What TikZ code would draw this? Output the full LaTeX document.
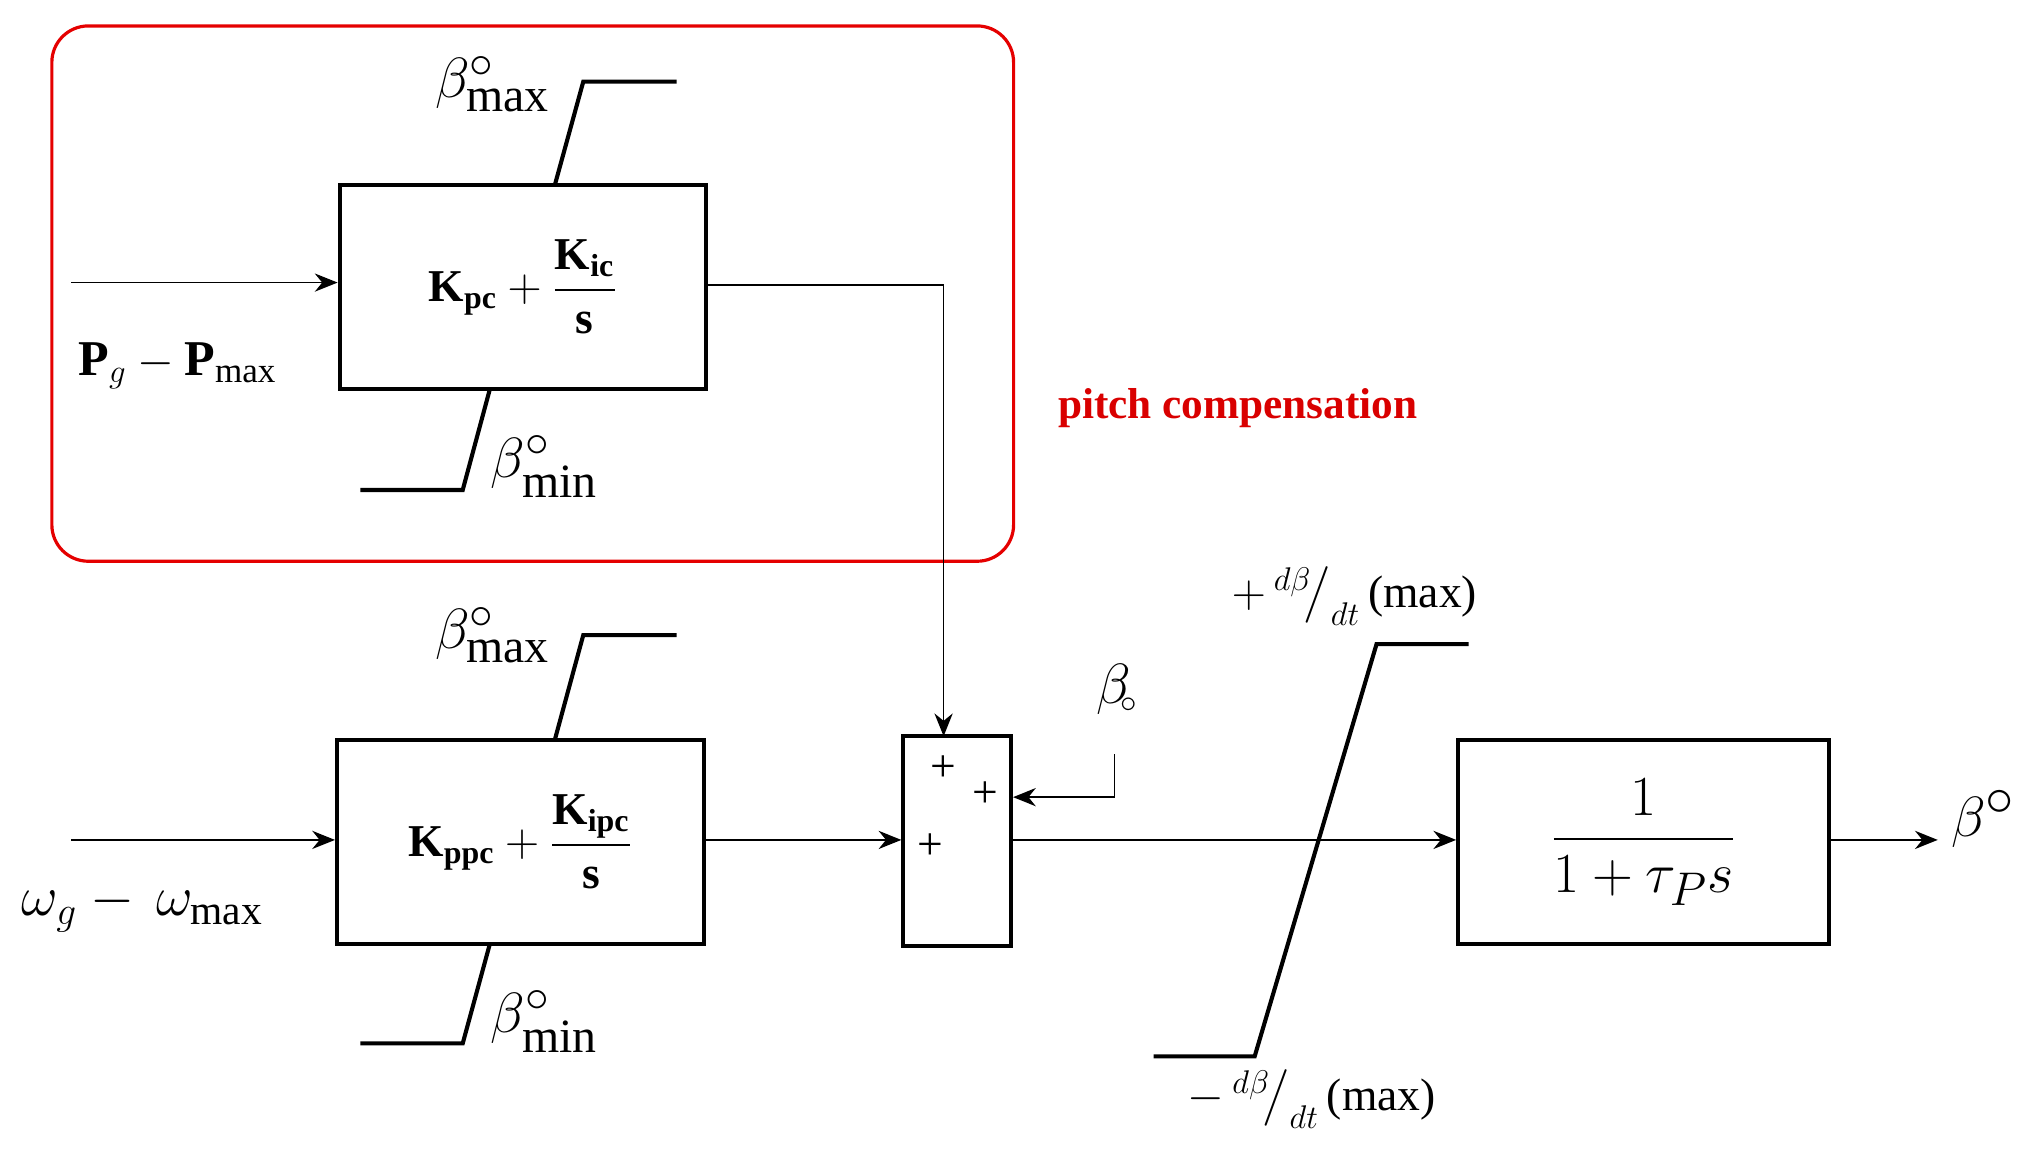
\documentclass[tikz,border=0pt]{standalone}
\usepackage{fontspec}
\setmainfont{Liberation Serif}
\usepackage{amsmath}
\usetikzlibrary{arrows.meta}
\begin{document}
\begin{tikzpicture}[x=0.02cm,y=-0.02cm,
 blk/.style={draw,line width=1.8pt,inner sep=0pt},
 lim/.style={line width=1.8pt},
 sig/.style={line width=0.7pt,-{Stealth[length=10pt,width=8pt]}},
 lab/.style={font=\fontsize{20}{24}\selectfont},
 big/.style={font=\fontsize{30}{34}\selectfont}]
\useasboundingbox (0,0) rectangle (1560,890);
\draw[red!90!black,line width=1.4pt,rounded corners=16pt] (40,20) rectangle (782,433);
\node[lab,text=red!85!black,font=\fontsize{19}{22}\selectfont\bfseries] (pc) at (955,315) {pitch compensation};
% upper block
\node[blk,minimum width=5.66cm,minimum height=3.14cm,lab] (ub) at (403.5,221.5) {$\mathbf{K_{pc}}+\dfrac{\mathbf{K_{ic}}}{\mathbf{s}}$};
\draw[lim] (428,143) -- (450,63) -- (522,63);
\draw[lim] (378,300) -- (357,378) -- (278,378);
\node[big] (ubmax) at (380,65) {$\beta^{\circ}_{\mathrm{max}}$};
\node[big] (ubmin) at (420,360) {$\beta^{\circ}_{\mathrm{min}}$};
\coordinate (uin) at (55,218);
\draw[sig] (uin) -- (ub.west|-uin);
\node[lab,font=\fontsize{22}{26}\selectfont] (pl) at (137,282) {$\mathbf{P}_{g}-\mathbf{P}_{\mathrm{max}}$};
% lower block
\node[blk,minimum width=5.66cm,minimum height=3.14cm,lab] (lb) at (401.5,649.5) {$\mathbf{K_{ppc}}+\dfrac{\mathbf{K_{ipc}}}{\mathbf{s}}$};
\draw[lim] (428,571) -- (450,490) -- (522,490);
\draw[lim] (378,728) -- (357,805) -- (278,805);
\node[big] (lbmax) at (380,490) {$\beta^{\circ}_{\mathrm{max}}$};
\node[big] (lbmin) at (420,788) {$\beta^{\circ}_{\mathrm{min}}$};
\coordinate (lin) at (55,648);
\draw[sig] (lin) -- (lb.west|-lin);
\node[big,font=\fontsize{26}{30}\selectfont] (wl) at (110,700) {$\omega_{g}-\,\omega_{\mathrm{max}}$};
% sum
\node[blk,minimum width=1.66cm,minimum height=3.24cm] (sum) at (738.5,649) {};
\node[lab] (p1) at (728,593) {+};
\node[lab] (p2) at (760,613) {+};
\node[lab] (p3) at (718,653) {+};
\draw[sig] (ub.east|-0,220) -| (728,568);
\draw[sig] (lb.east|-0,648) -- (sum.west|-0,648);
\node[big,inner sep=1pt] (b0) at (862,532) {$\beta_{\!\scriptscriptstyle\circ}$};
\draw[sig] (860,582) |- (sum.east|-0,615);
% rate limiter
\draw[lim] (890,815) -- (968,815) -- (1062,497) -- (1133,497);
\node[lab] (rp) at (1045,460) {$+\,{}^{d\beta}\!\big/_{dt}\,$(max)};
\node[lab] (rm) at (1012,848) {$-\,{}^{d\beta}\!\big/_{dt}\,$(max)};
% final block
\node[blk,minimum width=5.72cm,minimum height=3.14cm,big] (fb) at (1268,649.5) {$\dfrac{1}{1+\tau_{P}s}$};
\draw[sig] (sum.east|-0,648) -- (fb.west|-0,648);
\coordinate (out) at (1495,648);
\draw[sig] (fb.east|-0,648) -- (out);
\node[big,font=\fontsize{34}{38}\selectfont] (bo) at (1530,632) {$\beta^{\circ}$};
\end{tikzpicture}
\end{document}
